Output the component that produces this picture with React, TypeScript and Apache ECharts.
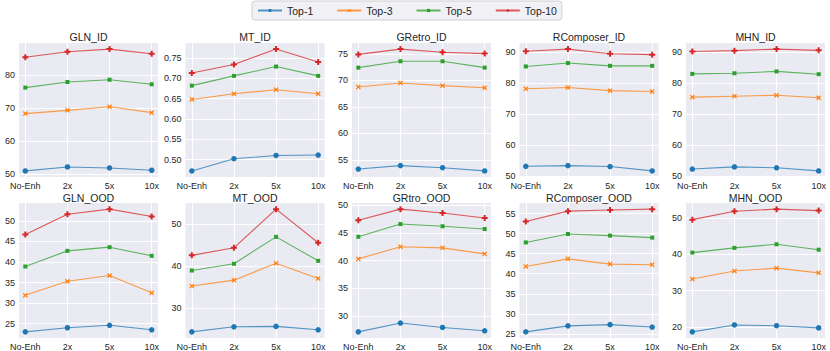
import React, { useEffect, useRef } from 'react';
import * as echarts from 'echarts';

const categories = ['No-Enh', '2x', '5x', '10x'];
const seriesNames = ['Top-1', 'Top-3', 'Top-5', 'Top-10'];
const seriesColors = ['#1f77b4', '#ff7f0e', '#2ca02c', '#d62728'];
const panelTitles = [
  'GLN_ID', 'MT_ID', 'GRetro_ID', 'RComposer_ID', 'MHN_ID',
  'GLN_OOD', 'MT_OOD', 'GRtro_OOD', 'RComposer_OOD', 'MHN_OOD',
];

// each panel: [Top-1, Top-3, Top-5, Top-10]
const glnId = [
  [51.0, 52.2, 51.9, 51.2],
  [68.4, 69.4, 70.5, 68.7],
  [76.3, 78.0, 78.7, 77.3],
  [85.5, 87.2, 88.0, 86.6],
];
const mtId = [
  [0.472, 0.502, 0.51, 0.511],
  [0.648, 0.662, 0.672, 0.662],
  [0.682, 0.706, 0.729, 0.706],
  [0.713, 0.734, 0.772, 0.74],
];
const gretroId = [
  [53.25, 53.9, 53.5, 52.9],
  [68.75, 69.5, 69.0, 68.6],
  [72.4, 73.6, 73.6, 72.4],
  [74.9, 75.9, 75.3, 75.05],
];
const rcomposerId = [
  [53.1, 53.3, 53.0, 51.6],
  [78.1, 78.5, 77.5, 77.2],
  [85.3, 86.4, 85.5, 85.5],
  [90.2, 90.9, 89.4, 89.1],
];
const mhnId = [
  [52.2, 52.9, 52.6, 51.6],
  [75.4, 75.7, 76.0, 75.2],
  [82.9, 83.1, 83.7, 82.8],
  [90.1, 90.4, 90.9, 90.5],
];
const glnOod = [
  [23.0, 24.0, 24.6, 23.5],
  [31.9, 35.3, 36.7, 32.5],
  [38.9, 42.7, 43.6, 41.5],
  [46.7, 51.6, 52.85, 51.05],
];
const mtOod = [
  [24.4, 25.6, 25.7, 24.9],
  [35.3, 36.7, 40.7, 37.1],
  [39.0, 40.6, 47.0, 41.3],
  [42.6, 44.4, 53.6, 45.6],
];
const grtroOod = [
  [27.1, 28.7, 27.9, 27.3],
  [40.3, 42.5, 42.3, 41.2],
  [44.3, 46.6, 46.2, 45.7],
  [47.3, 49.3, 48.6, 47.7],
];
const rcomposerOod = [
  [25.5, 27.0, 27.3, 26.7],
  [41.8, 43.7, 42.4, 42.25],
  [47.8, 49.9, 49.5, 49.0],
  [53.0, 55.6, 55.9, 56.1],
];
const mhnOod = [
  [18.6, 20.5, 20.3, 19.7],
  [33.2, 35.4, 36.2, 34.9],
  [40.5, 41.8, 42.8, 41.3],
  [49.6, 51.9, 52.5, 52.1],
];

const panelData = [glnId, mtId, gretroId, rcomposerId, mhnId, glnOod, mtOod, grtroOod, rcomposerOod, mhnOod];

const panelTicks = [
  [50, 60, 70, 80],
  [0.5, 0.55, 0.6, 0.65, 0.7, 0.75],
  [55, 60, 65, 70, 75],
  [50, 60, 70, 80, 90],
  [50, 60, 70, 80, 90],
  [25, 30, 35, 40, 45, 50],
  [30, 40, 50],
  [30, 35, 40, 45, 50],
  [25, 30, 35, 40, 45, 50, 55],
  [20, 30, 40, 50],
];
const panelDecimals = [0, 2, 0, 0, 0, 0, 0, 0, 0, 0];

const PLUS = 'path://M-1,-3L1,-3L1,-1L3,-1L3,1L1,1L1,3L-1,3L-1,1L-3,1L-3,-1L-1,-1Z';
const XMARK = 'path://M0,-1.2L2.2,-3.4L3.4,-2.2L1.2,0L3.4,2.2L2.2,3.4L0,1.2L-2.2,3.4L-3.4,2.2L-1.2,0L-3.4,-2.2L-2.2,-3.4Z';
const symbols = ['circle', XMARK, 'rect', PLUS];
const symbolSizes = [5.5, 5, 4, 6];

const FONT = '"Liberation Sans", Arial, sans-serif';
const TEXT = '#262626';

const colLefts = [19, 185.5, 352, 519.5, 686];
const plotW = 139;
const rowTops = [43, 203];
const plotH = [134, 135];
const titleTops = [31, 192];

export default function App() {
  const ref = useRef<HTMLDivElement>(null);
  useEffect(() => {
    if (!ref.current) return;
    const chart = echarts.init(ref.current, null, { renderer: 'svg' });
    const grids: any[] = [];
    const xAxes: any[] = [];
    const yAxes: any[] = [];
    const series: any[] = [];
    const titles: any[] = [];
    const xTicks = categories.map((_, i) => i);
    panelData.forEach((data, p) => {
      const r = Math.floor(p / 5);
      const c = p % 5;
      grids.push({
        left: colLefts[c],
        top: rowTops[r],
        width: plotW,
        height: plotH[r],
        show: true,
        backgroundColor: '#EAEAF2',
        borderWidth: 0,
        containLabel: false,
      });
      titles.push({
        text: panelTitles[p],
        left: colLefts[c] + plotW / 2,
        top: titleTops[r],
        textAlign: 'center',
        padding: 0,
        textStyle: { fontSize: 10.5, fontWeight: 'normal', color: TEXT, fontFamily: FONT },
      });
      xAxes.push({
        type: 'value',
        gridIndex: p,
        min: -0.15,
        max: 3.15,
        axisLine: { show: false },
        axisTick: { show: false, customValues: xTicks },
        axisLabel: {
          customValues: xTicks,
          formatter: (v: number) => categories[Math.round(v)] ?? '',
          fontSize: 9,
          color: TEXT,
          fontFamily: FONT,
          margin: 4,
        },
        splitLine: { show: true, lineStyle: { color: '#ffffff', width: 1 } },
      });
      const all = data.flat();
      const lo = Math.min(...all);
      const hi = Math.max(...all);
      const span = hi - lo;
      const dec = panelDecimals[p];
      yAxes.push({
        type: 'value',
        gridIndex: p,
        min: lo - 0.05 * span,
        max: hi + 0.05 * span,
        axisLine: { show: false },
        axisTick: { show: false, customValues: panelTicks[p] },
        axisLabel: {
          customValues: panelTicks[p],
          formatter: (v: number) => v.toFixed(dec),
          fontSize: 9,
          color: TEXT,
          fontFamily: FONT,
          margin: 4,
        },
        splitLine: { show: true, lineStyle: { color: '#ffffff', width: 1 } },
      });
      data.forEach((vals, s) => {
        series.push({
          type: 'line',
          name: seriesNames[s],
          xAxisIndex: p,
          yAxisIndex: p,
          data: vals.map((v, i) => [i, v]),
          symbol: symbols[s],
          symbolSize: symbolSizes[s],
          showAllSymbol: true,
          color: seriesColors[s],
          lineStyle: { width: 1.1, color: seriesColors[s], opacity: 0.75 },
          itemStyle: { color: seriesColors[s] },
          z: 2 + s,
        });
      });
    });
    chart.setOption({
      animation: false,
      textStyle: { fontFamily: FONT },
      title: titles,
      legend: {
        data: seriesNames,
        left: 252,
        top: 1,
        padding: [4, 5, 4, 5],
        itemWidth: 24,
        itemHeight: 4,
        itemGap: 23,
        backgroundColor: 'rgba(238,238,244,0.9)',
        borderColor: 'rgba(204,204,204,0.9)',
        borderWidth: 1,
        borderRadius: 3,
        textStyle: { fontSize: 10.5, color: TEXT, fontFamily: FONT },
      },
      grid: grids,
      xAxis: xAxes,
      yAxis: yAxes,
      series,
    });
    return () => chart.dispose();
  }, []);
  return (
    <div
      ref={ref}
      style={{ position: 'fixed', left: 0, top: 0, width: 830, height: 351, background: '#ffffff' }}
    />
  );
}
